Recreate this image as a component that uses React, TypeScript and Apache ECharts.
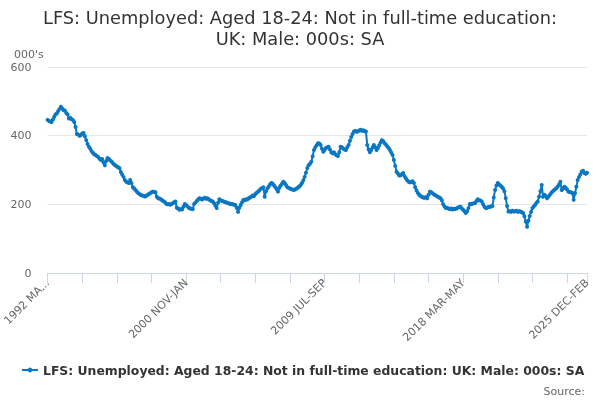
import React, { useEffect, useRef } from "react";
import * as echarts from "echarts";

const titleText = "LFS: Unemployed: Aged 18-24: Not in full-time education:\nUK: Male: 000s: SA";
const seriesName = "LFS: Unemployed: Aged 18-24: Not in full-time education: UK: Male: 000s: SA";
const unitLabel = "000's";
const sourceLabel = "Source:";

const quarterNames = [
  "MAR-MAY", "APR-JUN", "MAY-JUL", "JUN-AUG", "JUL-SEP", "AUG-OCT",
  "SEP-NOV", "OCT-DEC", "NOV-JAN", "DEC-FEB", "JAN-MAR", "FEB-APR",
];
const startYear = 1992;

// values, rows start at each year's MAR-MAY
const values: number[] = [
  446, 443, 441, 440, 447, 455, 462, 465, 472, 478, 484, 479,
  474, 473, 466, 462, 450, 452, 448, 446, 440, 425, 405, 403,
  400, 402, 406, 408, 398, 387, 376, 368, 362, 355, 350, 346,
  344, 341, 338, 333, 329, 332, 322, 314, 326, 335, 332, 328,
  325, 320, 316, 313, 310, 308, 305, 294, 287, 280, 271, 266,
  264, 262, 271, 262, 250, 246, 242, 237, 233, 230, 227, 226,
  225, 223, 224, 227, 230, 232, 235, 237, 236, 235, 222, 218,
  217, 215, 212, 209, 207, 202, 200, 201, 199, 201, 203, 206,
  208, 190, 188, 184, 186, 185, 193, 201, 198, 194, 190, 188,
  187, 186, 201, 205, 210, 214, 218, 216, 214, 217, 219, 216,
  218, 215, 212, 210, 208, 203, 196, 189, 205, 215, 212, 210,
  209, 207, 206, 204, 203, 201, 202, 200, 199, 198, 190, 178,
  190, 198, 206, 213, 212, 215, 214, 218, 220, 222, 226, 224,
  230, 234, 237, 240, 245, 247, 250, 222, 238, 246, 252, 258,
  262, 260, 255, 250, 244, 237, 248, 255, 260, 266, 262, 256,
  250, 248, 246, 244, 243, 242, 244, 246, 249, 252, 256, 262,
  270, 280, 292, 306, 314, 318, 324, 340, 358, 366, 372, 378,
  377, 373, 362, 353, 358, 364, 366, 368, 360, 352, 349, 352,
  346, 343, 341, 352, 368, 366, 362, 360, 358, 366, 373, 385,
  396, 405, 412, 414, 411, 413, 415, 417, 414, 416, 413, 412,
  373, 360, 352, 358, 366, 373, 366, 358, 364, 372, 380, 387,
  384, 378, 374, 369, 364, 358, 351, 344, 329, 312, 295, 290,
  284, 285, 288, 291, 282, 276, 270, 266, 264, 265, 267, 262,
  250, 240, 233, 228, 224, 222, 220, 219, 221, 218, 228, 237,
  235, 232, 229, 227, 224, 222, 220, 218, 212, 200, 194, 189,
  190, 188, 186, 188, 185, 187, 186, 188, 190, 192, 193, 188,
  184, 180, 175, 180, 189, 201, 200, 202, 203, 204, 210, 215,
  212, 211, 208, 200, 193, 189, 190, 192, 193, 194, 195, 220,
  242, 255, 262, 258, 255, 251, 246, 238, 218, 195, 179, 180,
  178, 181, 179, 180, 181, 178, 180, 179, 177, 175, 165, 150,
  135, 152, 166, 178, 189, 194, 198, 204, 208, 222, 238, 256,
  222, 228, 224, 218, 222, 227, 232, 237, 240, 244, 247, 252,
  258, 266, 242, 246, 251, 248, 243, 237, 236, 235, 233, 213,
  232, 251, 271, 280, 287, 295, 298, 291, 289, 292,
];

const categories: string[] = values.map((_, i) => {
  const m = i % 12;
  const y = startYear + Math.floor(i / 12);
  return `${y} ${quarterNames[m]}`;
});

const yTicks = [0, 200, 400, 600];

export default function App() {
  const ref = useRef<HTMLDivElement>(null);
  useEffect(() => {
    if (!ref.current) return;
    const chart = echarts.init(ref.current, null, { renderer: "svg" });
    const last = categories.length - 1;
    chart.setOption({
      animation: false,
      textStyle: { fontFamily: "DejaVu Sans" },
      title: [
        {
          text: titleText,
          left: "center",
          top: 2,
          textStyle: {
            fontSize: 17.8,
            fontWeight: "normal",
            color: "#333333",
            lineHeight: 21,
            fontFamily: "DejaVu Sans",
          },
        },
        {
          text: unitLabel,
          left: 9,
          top: 44,
          textStyle: { fontSize: 11, fontWeight: "normal", color: "#666666", fontFamily: "DejaVu Sans" },
        },
        {
          text: sourceLabel,
          right: 10,
          top: 381,
          textStyle: { fontSize: 11, fontWeight: "normal", color: "#666666", fontFamily: "DejaVu Sans" },
        },
      ],
      legend: {
        bottom: 19,
        left: 16,
        itemWidth: 16,
        itemHeight: 6,
        textStyle: { fontSize: 12.4, fontWeight: "bold", color: "#333333", fontFamily: "DejaVu Sans" },
        data: [seriesName],
      },
      grid: { left: 46, right: 13, top: 67, bottom: 127, containLabel: false },
      xAxis: {
        type: "category",
        data: categories,
        boundaryGap: false,
        axisLine: { lineStyle: { color: "#ccd6eb" } },
        axisTick: {
          length: 10,
          lineStyle: { color: "#ccd6eb" },
          interval: (i: number) => i % 26 === 0 || i === last,
        },
        axisLabel: {
          rotate: 45,
          color: "#666666",
          fontSize: 11,
          margin: 8,
          interval: (i: number) => i % 104 === 0 || i === last,
          formatter: (v: string, i: number) => (i === 0 ? v.slice(0, 7) + "..." : v),
        },
        splitLine: { show: false },
      },
      yAxis: {
        type: "value",
        min: yTicks[0],
        max: yTicks[yTicks.length - 1],
        interval: 200,
        axisLine: { show: false },
        axisTick: { show: false },
        axisLabel: { color: "#666666", fontSize: 11, margin: 16 },
        splitLine: { lineStyle: { color: "#e6e6e6" } },
      },
      series: [
        {
          name: seriesName,
          type: "line",
          data: values,
          color: "#0a77c2",
          lineStyle: { width: 2, color: "#0a77c2" },
          symbol: "circle",
          symbolSize: 4,
          showSymbol: true,
          showAllSymbol: true,
          itemStyle: { color: "#0a77c2" },
        },
      ],
    });
    return () => chart.dispose();
  }, []);
  return <div ref={ref} style={{ position: "fixed", left: 0, top: 0, width: 600, height: 400 }} />;
}
